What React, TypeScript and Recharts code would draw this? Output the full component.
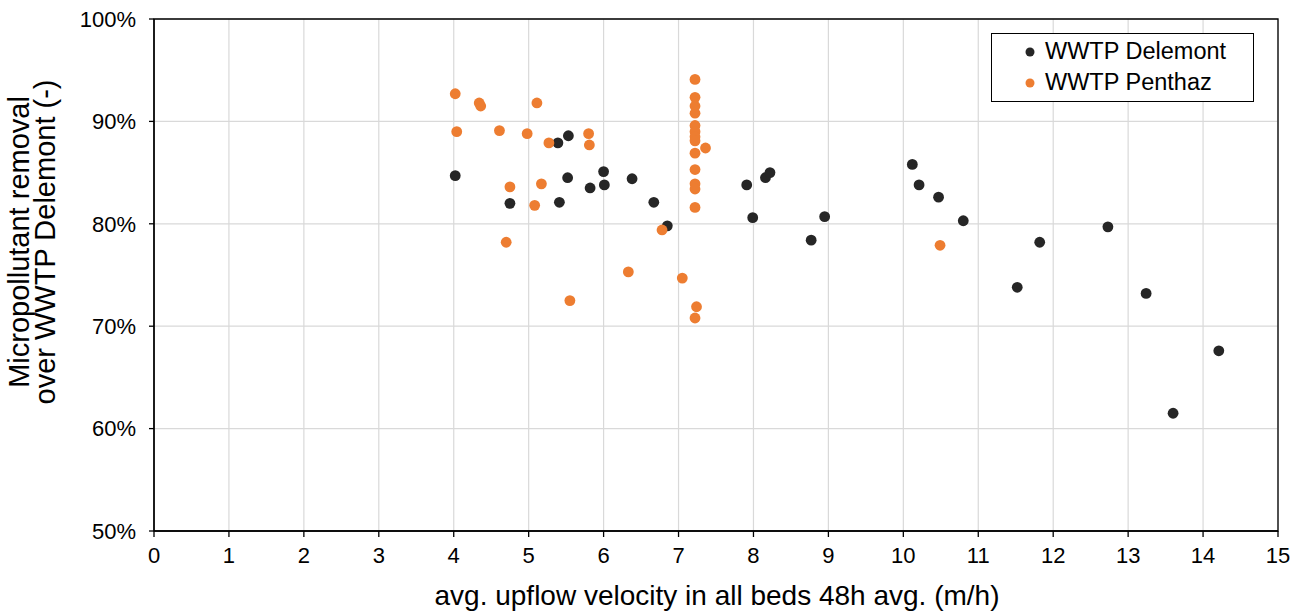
import React from 'react';
import { ScatterChart, Scatter, XAxis, YAxis, CartesianGrid, Legend, ReferenceArea } from 'recharts';

const delemontX = [4.02, 4.75, 5.39, 5.41, 5.52, 5.53, 5.82, 6.0, 6.01, 6.38, 6.67, 6.85, 7.91, 7.99, 8.16, 8.22, 8.77, 8.95, 10.12, 10.21, 10.47, 10.8, 11.52, 11.82, 12.73, 13.24, 13.6, 14.21];
const delemontY = [84.7, 82.0, 87.9, 82.1, 84.5, 88.6, 83.5, 85.1, 83.8, 84.4, 82.1, 79.8, 83.8, 80.6, 84.5, 85.0, 78.4, 80.7, 85.8, 83.8, 82.6, 80.3, 73.8, 78.2, 79.7, 73.2, 61.5, 67.6];

const penthazX = [4.02, 4.04, 4.34, 4.36, 4.61, 4.7, 4.75, 4.98, 5.08, 5.11, 5.17, 5.27, 5.55, 5.8, 5.81, 6.33, 6.78, 7.05, 7.22, 7.22, 7.22, 7.22, 7.22, 7.22, 7.22, 7.22, 7.22, 7.22, 7.22, 7.22, 7.22, 7.24, 7.22, 7.36, 10.49];
const penthazY = [92.7, 89.0, 91.8, 91.5, 89.1, 78.2, 83.6, 88.8, 81.8, 91.8, 83.9, 87.9, 72.5, 88.8, 87.7, 75.3, 79.4, 74.7, 94.1, 92.35, 91.5, 90.8, 89.6, 89.0, 88.5, 88.1, 86.9, 85.3, 83.9, 83.4, 81.6, 71.9, 70.8, 87.4, 77.9];

const xTicks = [0, 1, 2, 3, 4, 5, 6, 7, 8, 9, 10, 11, 12, 13, 14, 15];
const yTicks = [50, 60, 70, 80, 90, 100];

const seriesNames = ['WWTP Delemont', 'WWTP Penthaz'];
const seriesColors = ['#262626', '#ED7D31'];

const xTitle = 'avg. upflow velocity in all beds 48h avg. (m/h)';
const yTitleLines = ['Micropollutant removal', 'over WWTP Delemont (-)'];

const FONT = '"Liberation Sans", Arial, sans-serif';

const delemontData = delemontX.map((x, i) => ({ x, y: delemontY[i] }));
const penthazData = penthazX.map((x, i) => ({ x, y: penthazY[i] }));

const makeDot = (color: string) => (props: any) => (
  <circle cx={props.cx} cy={props.cy} r={5.4} fill={color} stroke="none" />
);

const XTitle = (props: any) => {
  const vb = props.viewBox || { x: 0, y: 0, width: 0, height: 0 };
  return (
    <text x={vb.x + vb.width / 2 + 1} y={vb.y + 74} textAnchor="middle" fontSize={28} fontFamily={FONT} fill="#000">
      {xTitle}
    </text>
  );
};

const YTitle = () => {
  const cy = 242;
  const xs = [29, 55];
  return (
    <g>
      {yTitleLines.map((line, i) => (
        <text key={i} x={xs[i]} y={cy} transform={`rotate(-90, ${xs[i]}, ${cy})`} textAnchor="middle" fontSize={29} fontFamily={FONT} fill="#000">
          {line}
        </text>
      ))}
    </g>
  );
};

const LegendBox = () => (
  <div style={{ position: 'relative', width: 263, height: 69, border: '1px solid #000', boxSizing: 'border-box', background: '#fff', fontFamily: FONT, fontSize: 23, color: '#000' }}>
    {seriesNames.map((name, i) => (
      <div key={name} style={{ position: 'absolute', left: 0, top: 3 + i * 31, height: 30, width: 261 }}>
        <svg width={12} height={12} style={{ position: 'absolute', left: 32, top: 9 }}>
          <circle cx={6} cy={6} r={4.5} fill={seriesColors[i]} />
        </svg>
        <span style={{ position: 'absolute', left: 53, top: 0, lineHeight: '28px', whiteSpace: 'nowrap', fontSize: 23.5 }}>{name}</span>
      </div>
    ))}
  </div>
);

export default function App() {
  return (
    <div style={{ width: 1305, height: 612, overflow: 'hidden', background: '#fff' }}>
      <style>{`body{margin:0;overflow:hidden;}`}</style>
      <ScatterChart width={1305} height={612} margin={{ top: 19, right: 27, bottom: 0, left: 0 }}>
        <CartesianGrid stroke="#D9D9D9" strokeWidth={1.2} />
        <XAxis
          type="number"
          dataKey="x"
          domain={[0, 15]}
          ticks={xTicks}
          allowDataOverflow
          height={81}
          tickSize={6}
          tickMargin={10}
          axisLine={{ stroke: '#000', strokeWidth: 1.3 }}
          tickLine={{ stroke: '#000', strokeWidth: 1.3 }}
          tick={{ fontSize: 22, fontFamily: FONT, fill: '#000' }}
          label={<XTitle />}
        />
        <YAxis
          type="number"
          dataKey="y"
          domain={[50, 100]}
          ticks={yTicks}
          allowDataOverflow
          width={154}
          tickSize={5}
          tickMargin={13}
          tickFormatter={(v: number) => `${v}%`}
          axisLine={{ stroke: '#000', strokeWidth: 1.3 }}
          tickLine={{ stroke: '#000', strokeWidth: 1.3 }}
          tick={{ fontSize: 22, fontFamily: FONT, fill: '#000' }}
          label={<YTitle />}
        />
        <ReferenceArea x1={0} x2={15} y1={50} y2={100} fill="none" stroke="#000" strokeWidth={1.3} ifOverflow="visible" />
        <Scatter name={seriesNames[0]} data={delemontData} fill={seriesColors[0]} shape={makeDot(seriesColors[0])} isAnimationActive={false} />
        <Scatter name={seriesNames[1]} data={penthazData} fill={seriesColors[1]} shape={makeDot(seriesColors[1])} isAnimationActive={false} />
        <Legend
          layout="vertical"
          align="center"
          verticalAlign="middle"
          content={<LegendBox />}
          wrapperStyle={{ position: 'absolute', left: 991, top: 33, width: 263, height: 69, margin: 0 }}
        />
      </ScatterChart>
    </div>
  );
}
